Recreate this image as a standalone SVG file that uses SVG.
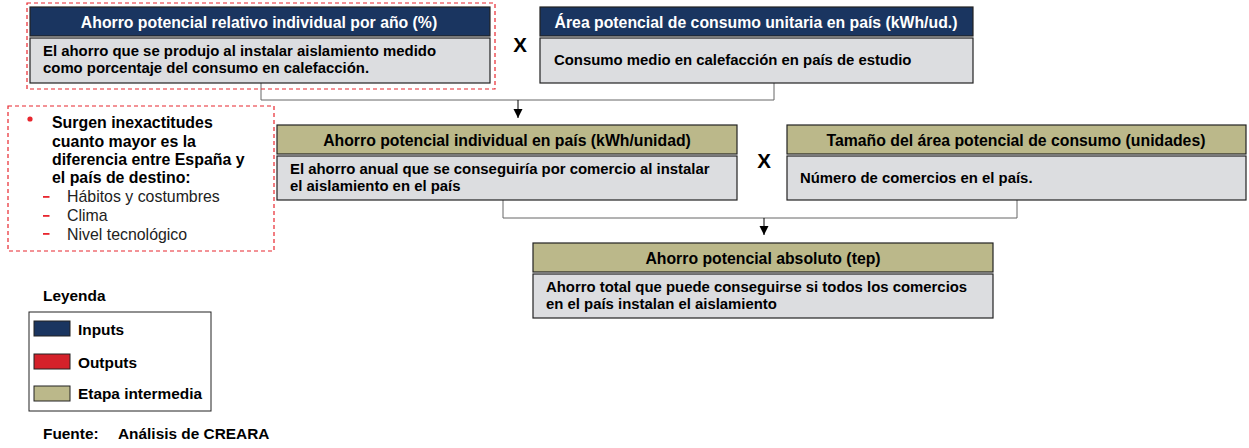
<svg xmlns="http://www.w3.org/2000/svg" width="1249" height="448" viewBox="0 0 1249 448">
<style>
text{font-family:"Liberation Sans",Arial,sans-serif;font-weight:bold;fill:#000}
.hd{font-size:15.8px;text-anchor:middle}
.hw{fill:#fff}
.bd{font-size:14.9px}
.lg{font-size:15.4px}
.navy{fill:#1a3560;stroke:#222;stroke-width:1.2}
.olive{fill:#bbb88a;stroke:#222;stroke-width:1.2}
.grey{fill:#dcdde0;stroke:#222;stroke-width:1.2}
.conn{fill:none;stroke:#666;stroke-width:1}
.dash{fill:none;stroke:#e8262e;stroke-width:1.2;stroke-dasharray:4 3}
.x{font-size:20.5px;text-anchor:middle}
.nt{font-size:15.9px}
.sub{font-size:15.9px;font-weight:normal;fill:#222}
.red{fill:#e8262e}
</style>
<defs>
<marker id="arr" viewBox="0 0 10 10" refX="10" refY="5" markerWidth="9" markerHeight="10" markerUnits="userSpaceOnUse" orient="auto">
<path d="M0,0 L10,5 L0,10 z" fill="#000"/>
</marker>
</defs>
<g id="connectors">
<polyline class="conn" points="261,83 261,100 774,100 774,83"/>
<line x1="518" y1="100" x2="518" y2="118" stroke="#000" stroke-width="1" marker-end="url(#arr)"/>
<polyline class="conn" points="503,200 503,218 1017,218 1017,200"/>
<line x1="764" y1="218" x2="764" y2="235" stroke="#000" stroke-width="1" marker-end="url(#arr)"/>
</g>
<g id="node-relativo">
<rect class="dash" x="27" y="3" width="468" height="86"/>
<rect class="navy" x="30" y="7" width="460" height="29"/>
<text class="hd hw" x="259" y="27.5">Ahorro potencial relativo individual por año (%)</text>
<rect class="grey" x="30" y="38" width="460" height="45"/>
<text class="bd" x="43" y="56">El ahorro que se produjo al instalar aislamiento medido</text>
<text class="bd" x="43" y="73">como porcentaje del consumo en calefacción.</text>
</g>
<text class="x" x="520" y="52">X</text>
<g id="node-area">
<rect class="navy" x="540" y="7" width="433" height="29"/>
<text class="hd hw" x="756" y="27.5">Área potencial de consumo unitaria en país (kWh/ud.)</text>
<rect class="grey" x="540" y="38" width="433" height="45"/>
<text class="bd" x="554" y="65">Consumo medio en calefacción en país de estudio</text>
</g>
<g id="node-nota">
<rect class="dash" x="8" y="106" width="266" height="145"/>
<circle class="red" cx="30" cy="119" r="2.6"/>
<text class="nt" x="52" y="128">Surgen inexactitudes</text>
<text class="nt" x="52" y="147">cuanto mayor es la</text>
<text class="nt" x="52" y="165">diferencia entre España y</text>
<text class="nt" x="52" y="183">el país de destino:</text>
<rect class="red" x="43" y="196" width="6.5" height="1.8"/>
<rect class="red" x="43" y="215" width="6.5" height="1.8"/>
<rect class="red" x="43" y="233" width="6.5" height="1.8"/>
<text class="sub" x="67" y="202">Hábitos y costumbres</text>
<text class="sub" x="67" y="221">Clima</text>
<text class="sub" x="67" y="240">Nivel tecnológico</text>
</g>
<g id="node-individual">
<rect class="olive" x="277" y="125" width="460" height="29"/>
<text class="hd" x="507" y="145.5">Ahorro potencial individual en país (kWh/unidad)</text>
<rect class="grey" x="277" y="156" width="460" height="44"/>
<text class="bd" x="290" y="174">El ahorro anual que se conseguiría por comercio al instalar</text>
<text class="bd" x="290" y="191">el aislamiento en el país</text>
</g>
<text class="x" x="764" y="168">X</text>
<g id="node-tamano">
<rect class="olive" x="787" y="125" width="459" height="29"/>
<text class="hd" x="1016" y="145.5">Tamaño del área potencial de consumo (unidades)</text>
<rect class="grey" x="787" y="156" width="459" height="44"/>
<text class="bd" x="800" y="183">Número de comercios en el país.</text>
</g>
<g id="node-absoluto">
<rect class="olive" x="533" y="243" width="460" height="29"/>
<text class="hd" x="763" y="263.5">Ahorro potencial absoluto (tep)</text>
<rect class="grey" x="533" y="274" width="460" height="44"/>
<text class="bd" x="546" y="292">Ahorro total que puede conseguirse si todos los comercios</text>
<text class="bd" x="546" y="309">en el país instalan el aislamiento</text>
</g>
<g id="legend">
<text class="lg" x="43" y="301">Leyenda</text>
<rect x="29" y="312" width="182" height="99" fill="#fff" stroke="#222" stroke-width="1"/>
<rect x="34" y="321" width="36" height="15" fill="#1a3560" stroke="#222"/>
<text class="lg" x="78" y="335">Inputs</text>
<rect x="34" y="354" width="36" height="15" fill="#d4212a" stroke="#222"/>
<text class="lg" x="78" y="368">Outputs</text>
<rect x="34" y="386" width="36" height="15" fill="#bbb88a" stroke="#222"/>
<text class="lg" x="78" y="399">Etapa intermedia</text>
<text class="lg" x="43" y="439">Fuente:</text>
<text class="lg" x="118" y="439">Análisis de CREARA</text>
</g>
</svg>
